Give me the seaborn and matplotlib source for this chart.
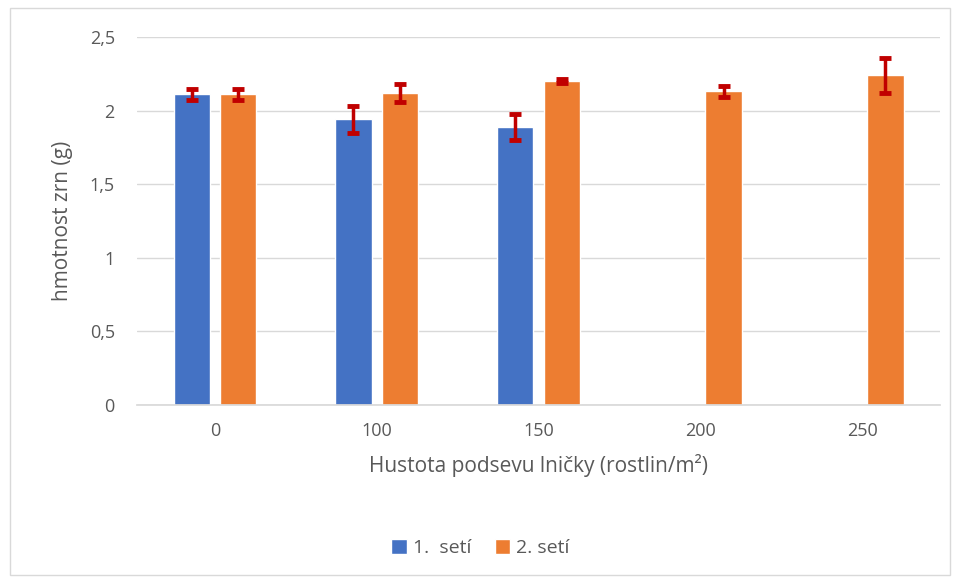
import pandas as pd
import numpy as np
import matplotlib
matplotlib.use('Agg')
import matplotlib.pyplot as plt
import seaborn as sns
from matplotlib.patches import Rectangle
from matplotlib.ticker import FuncFormatter

# data
hustota = ['0', '100', '150', '200', '250']
seti_1 = [2.11, 1.94, 1.89, np.nan, np.nan]
seti_1_err = [0.04, 0.09, 0.09, np.nan, np.nan]
seti_2 = [2.11, 2.12, 2.20, 2.13, 2.24]
seti_2_err = [0.04, 0.06, 0.015, 0.035, 0.12]
serie_names = ['1.  setí', '2. setí']

df = pd.concat([
    pd.DataFrame({'hustota': hustota, 'hmotnost': seti_1, 'err': seti_1_err, 'serie': serie_names[0]}),
    pd.DataFrame({'hustota': hustota, 'hmotnost': seti_2, 'err': seti_2_err, 'serie': serie_names[1]}),
]).dropna()

sns.set_theme(style='white')
plt.rcParams['font.family'] = ['Open Sans', 'DejaVu Sans']
text_col = '#595959'

fig = plt.figure(figsize=(9.61, 5.79), dpi=100)
ax = fig.add_axes([137 / 961, 1 - 405 / 579, (940 - 137) / 961, (405 - 37) / 579])

sns.barplot(data=df, x='hustota', y='hmotnost', hue='serie', order=hustota,
            hue_order=serie_names, palette=['#4472c4', '#ed7d31'], saturation=1,
            errorbar=None, width=0.575, gap=0.22, ax=ax)

# error bars
for i, name in enumerate(serie_names):
    sub = df[df['serie'] == name]
    for bar, (_, row) in zip(ax.containers[i], sub.iterrows()):
        xc = bar.get_x() + bar.get_width() / 2
        ax.errorbar(xc, bar.get_height(), yerr=row['err'], color='#c00000',
                    lw=2.5, capsize=4.3, capthick=3.5, zorder=5)

ax.set_ylim(0, 2.5)
ax.set_yticks(np.arange(0, 2.51, 0.5))
ax.yaxis.set_major_formatter(FuncFormatter(lambda v, p: f'{v:g}'.replace('.', ',')))
ax.grid(axis='y', color='#d9d9d9', lw=1)
ax.set_axisbelow(True)
for s in ['top', 'right', 'left']:
    ax.spines[s].set_visible(False)
ax.spines['bottom'].set_color('#d9d9d9')
ax.tick_params(axis='both', length=0, labelsize=13, colors=text_col)
ax.tick_params(axis='y', pad=16)
ax.tick_params(axis='x', pad=12)

ax.set_xlabel('Hustota podsevu lničky (rostlin/m²)', fontsize=15, color=text_col, labelpad=10)
ax.set_ylabel('hmotnost zrn (g)', fontsize=15, color=text_col, labelpad=12)

ax.legend(loc='center', bbox_to_anchor=(0.5, (579 - 548) / 579), bbox_transform=fig.transFigure,
          ncol=2, frameon=False, fontsize=14, labelcolor=text_col, handlelength=0.8,
          handleheight=0.8, columnspacing=1.2, handletextpad=0.3)

fig.patches.append(Rectangle((10 / 961, 1 - 575 / 579), 940 / 961, 567 / 579,
                             transform=fig.transFigure, fill=False, ec='#d9d9d9', lw=1))

fig.savefig('out.png', dpi=100)
